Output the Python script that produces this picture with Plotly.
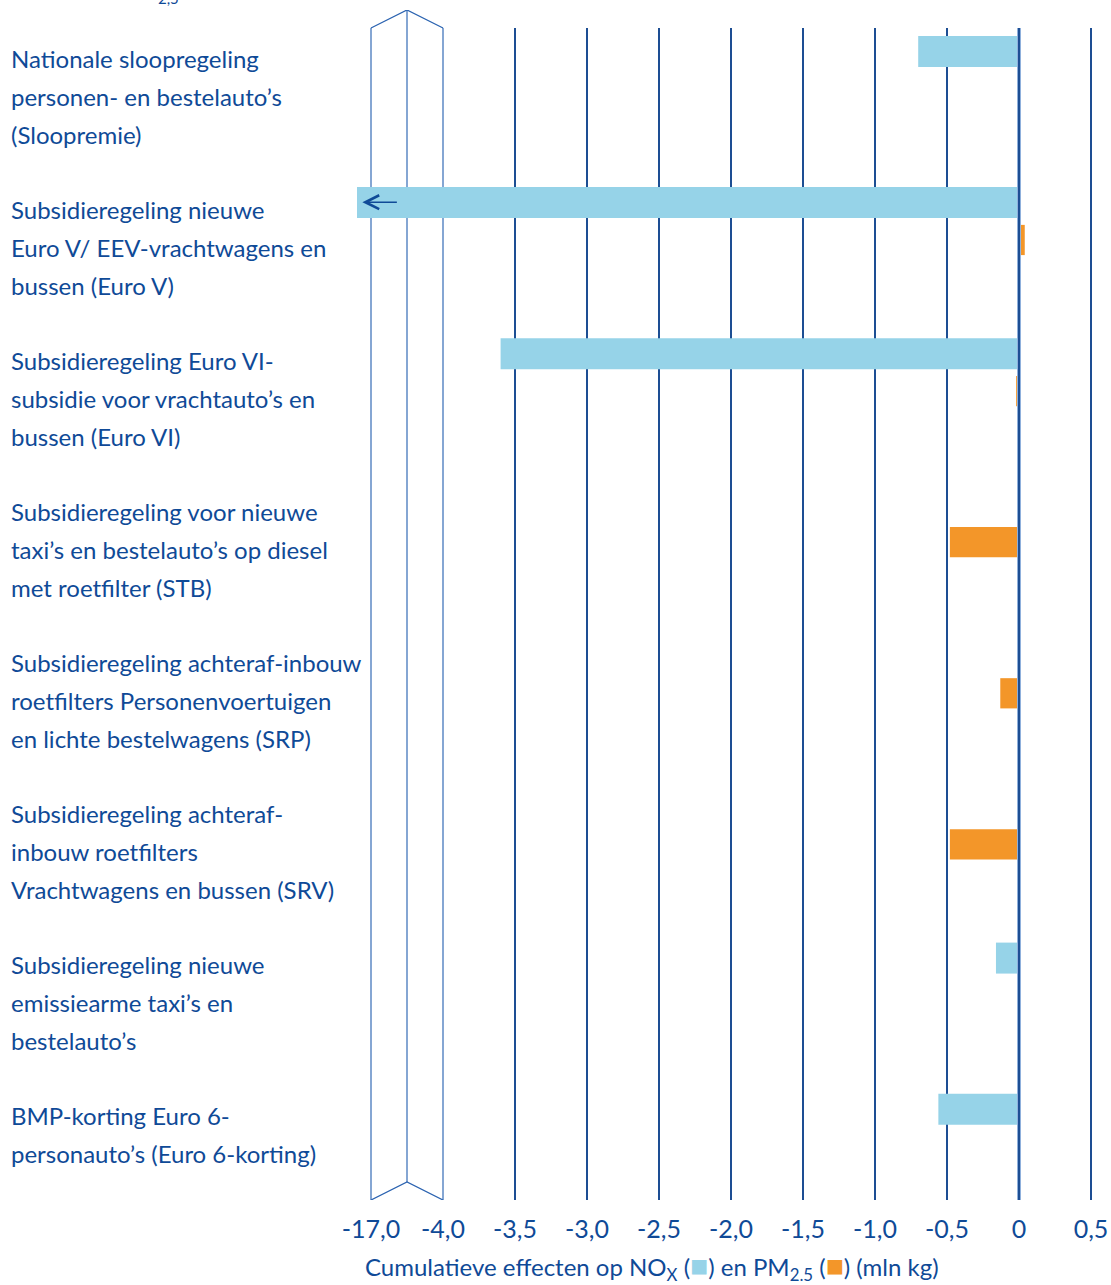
import plotly.graph_objects as go

# ---------------- data ----------------
label_lines = [
    ["Nationale sloopregeling", "personen- en bestelauto’s", "(Sloopremie)"],
    ["Subsidieregeling nieuwe", "Euro V/ EEV-vrachtwagens en", "bussen (Euro V)"],
    ["Subsidieregeling Euro VI-", "subsidie voor vrachtauto’s en", "bussen (Euro VI)"],
    ["Subsidieregeling voor nieuwe", "taxi’s en bestelauto’s op diesel", "met roetfilter (STB)"],
    ["Subsidieregeling achteraf-inbouw", "roetfilters Personenvoertuigen", "en lichte bestelwagens (SRP)"],
    ["Subsidieregeling achteraf-", "inbouw roetfilters", "Vrachtwagens en bussen (SRV)"],
    ["Subsidieregeling nieuwe", "emissiearme taxi’s en", "bestelauto’s"],
    ["BMP-korting Euro 6-", "personauto’s (Euro 6-korting)"],
]
nox = [-0.70, -17.1, -3.60, None, None, None, -0.16, -0.56]
pm25 = [-0.01, 0.04, -0.02, -0.48, -0.13, -0.48, None, None]

tick_real = [-17.0, -4.0, -3.5, -3.0, -2.5, -2.0, -1.5, -1.0, -0.5, 0.0, 0.5]
tick_text = ["-17,0", "-4,0", "-3,5", "-3,0", "-2,5", "-2,0", "-1,5", "-1,0", "-0,5", "0", "0,5"]

# ---------------- style ----------------
NOX_C = "#96d3e8"
PM_C = "#f39629"
TXT = "#0f4a97"
GRID = "#1d4e93"
BREAK_C = "#5d88c4"
FONT = "Lato"

W, H = 1111, 1285
ML, MR, MT, MB = 357, 6, 10, 85
PX_PER_UNIT = 144.0
ZERO_PX = 1019
ROW0_PX = 70.0
ROW_PITCH = 151.1


def disp(v):
    """broken axis: -17 .. -4 compressed into 0.5 display units"""
    if v is None:
        return None
    if v >= -4:
        return v
    if v <= -17:
        return -4.5 + (v + 17)
    return -4 + (v + 4) * (0.5 / 13)


def py(p):
    return (p - ROW0_PX) / ROW_PITCH


rows = list(range(len(label_lines)))
x0 = -(ZERO_PX - ML) / PX_PER_UNIT
x1 = (W - MR - ZERO_PX) / PX_PER_UNIT
y_top = py(MT)
y_bot = py(H - MB)

fig = go.Figure()
fig.add_trace(go.Bar(
    y=rows, x=[disp(v) for v in nox], orientation="h",
    marker=dict(color=NOX_C, line=dict(width=0)),
    width=0.205, offset=-0.225, name="NOx", hoverinfo="skip",
))
fig.add_trace(go.Bar(
    y=rows, x=[disp(v) for v in pm25], orientation="h",
    marker=dict(color=PM_C, line=dict(width=0)),
    width=0.2, offset=0.025, name="PM2.5", hoverinfo="skip",
))

shapes = []
grid_top = py(28)
grid_bot = py(1200)
for v in tick_real:
    d = disp(v)
    if v <= -4:
        continue
    if v == 0:
        shapes.append(dict(type="line", xref="x", yref="y", x0=d, x1=d, y0=grid_top, y1=grid_bot,
                           line=dict(color="#8fb0dc", width=4), layer="above"))
        shapes.append(dict(type="line", xref="x", yref="y", x0=d, x1=d, y0=grid_top, y1=grid_bot,
                           line=dict(color=GRID, width=2), layer="above"))
    else:
        shapes.append(dict(type="line", xref="x", yref="y", x0=d, x1=d, y0=grid_top, y1=grid_bot,
                           line=dict(color=GRID, width=2), layer="below"))

# axis break decoration
bl, br = disp(-17), disp(-4)
bm = (bl + br) / 2
peak = py(10) - py(28)
for xx in (bl, br):
    shapes.append(dict(type="line", xref="x", yref="y", x0=xx, x1=xx, y0=grid_top, y1=grid_bot,
                       line=dict(color=BREAK_C, width=1.5), layer="below"))
shapes.append(dict(type="line", xref="x", yref="y", x0=bm, x1=bm, y0=grid_top + peak, y1=grid_bot + peak,
                   line=dict(color=BREAK_C, width=1.5), layer="below"))
shapes.append(dict(type="path", xref="x", yref="y",
                   path=f"M {bl},{grid_top} L {bm},{grid_top + peak} L {br},{grid_top}",
                   line=dict(color="#2a62b0", width=1.3), layer="below"))
shapes.append(dict(type="path", xref="x", yref="y",
                   path=f"M {bl},{grid_bot} L {bm},{grid_bot + peak} L {br},{grid_bot}",
                   line=dict(color="#2a62b0", width=1.3), layer="below"))

annotations = []
plot_w = W - ML - MR
lab_x = (10 - ML) / plot_w
for i, lines in enumerate(label_lines):
    for k, t in enumerate(lines):
        annotations.append(dict(
            xref="paper", yref="y", x=lab_x, y=i - 0.079 + 0.2515 * k,
            text=t, showarrow=False, xanchor="left", yanchor="middle",
            font=dict(family=FONT, size=24, color=TXT), borderpad=0,
        ))

# arrow on the truncated bar
annotations.append(dict(
    xref="x", yref="y", axref="x", ayref="y",
    x=disp(-17.06), y=1 - 0.125, ax=disp(-17) + 0.19, ay=1 - 0.125,
    text="", showarrow=True, arrowhead=5, arrowsize=1.7, arrowwidth=1.6, arrowcolor=TXT,
))

plot_h = H - MT - MB
title_txt = (
    "Cumulatieve effecten op NO<sub>X</sub> ("
    f"<span style='color:{NOX_C};font-size:30px'>■</span>) en PM<sub>2.5</sub> ("
    f"<span style='color:{PM_C};font-size:30px'>■</span>) (mln kg)"
)
annotations.append(dict(
    xref="paper", yref="paper", x=(364 - ML) / plot_w, y=-(1265 - (H - MB)) / plot_h,
    text=title_txt, showarrow=False, xanchor="left", yanchor="middle",
    font=dict(family=FONT, size=24, color=TXT), borderpad=0,
))
# cut-off subscript of a title above the chart
annotations.append(dict(
    xref="paper", yref="paper", x=(168 - ML) / plot_w, y=1 + (MT + 2) / plot_h,
    text="2,5", showarrow=False, xanchor="center", yanchor="middle",
    font=dict(family=FONT, size=15, color=TXT),
))

fig.update_layout(
    width=W, height=H,
    margin=dict(l=ML, r=MR, t=MT, b=MB, pad=0, autoexpand=False),
    paper_bgcolor="white", plot_bgcolor="white",
    barmode="overlay", showlegend=False,
    shapes=shapes, annotations=annotations,
    xaxis=dict(
        range=[x0, x1], showgrid=False, zeroline=False, showline=False, automargin=False,
        tickmode="array", tickvals=[disp(v) for v in tick_real], ticktext=tick_text,
        ticks="", ticklabelstandoff=12,
        tickfont=dict(family=FONT, size=25, color=TXT),
    ),
    yaxis=dict(
        range=[y_bot, y_top], showgrid=False, zeroline=False, showline=False,
        showticklabels=False, ticks="", automargin=False,
    ),
)

fig.write_html(
    "out.html",
    config={"displayModeBar": False},
    post_script="document.body.style.margin='0';document.body.style.overflow='hidden';",
)
